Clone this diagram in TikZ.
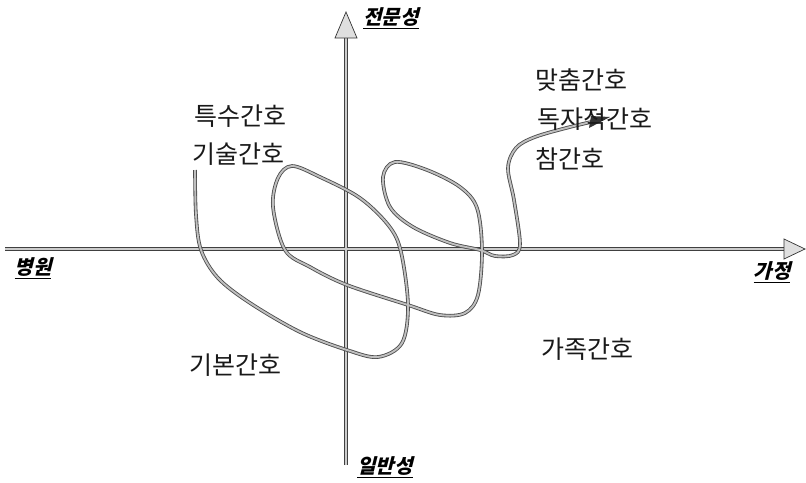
\documentclass[tikz,border=0pt]{standalone}
\usepackage{fontspec}
\newfontfamily\kr{Noto Sans CJK KR}
\newfontfamily\krbi[FakeSlant=0.25]{Noto Sans CJK KR}
\usetikzlibrary{arrows.meta,calc}
\tikzset{
  axisline/.style={draw=black!75, line width=3.8pt},
  axiscore/.style={draw=gray!40, line width=2pt},
  curveline/.style={draw=black!70, line width=3.6pt, line join=round},
  curvecore/.style={draw=gray!50, line width=1.9pt, line join=round},
  headtri/.style={fill=gray!25, draw=black!80, line width=0.7pt, line join=miter},
  lbl/.style={font=\kr\fontsize{25}{28}\selectfont, inner sep=0pt, text=black!90},
  axlbl/.style={font=\krbi\bfseries\fontsize{20}{23}\selectfont, inner sep=0pt}
}
\begin{document}
\begin{tikzpicture}[x=1pt,y=-1pt]
\useasboundingbox (0,0) rectangle (806,482);
% axis coordinates
\coordinate (vb) at (346,465);
\coordinate (vt) at (346,38);
\coordinate (vtip) at (346,12);
\coordinate (hl) at (5,249);
\coordinate (hr) at (784,249);
\coordinate (htip) at (805,249);
% axes
\draw[axisline] (vb) -- (vt);
\draw[axisline] (hl) -- (hr);
\draw[axiscore] (vb) -- (vt);
\draw[axiscore] (hl) -- (hr);
\filldraw[headtri] (vtip) -- ($(vt)+(-11,0)$) -- ($(vt)+(11,0)$) -- cycle;
\filldraw[headtri] (htip) -- ($(hr)+(0,-10)$) -- ($(hr)+(0,10)$) -- cycle;
% curve
\def\curvepath{plot[smooth, tension=0.55] coordinates {
 (195,170) (196,215) (201,250) (218,278) (250,303) (300,332) (347,350)
 (378,357) (402,343) (408,305) (401,252) (389,226) (360,198) (320,177) (292,166)
 (278,178) (273,207) (285,250) (310,267) (347,285) (408,305) (440,315)
 (465,313) (478,295) (482,250) (477,208) (460,187) (427,170) (395,162)
 (383,177) (390,207) (413,227) (450,243) (480,250) (495,256) (513,255)
 (520,244) (514,200) (508,168) (516,148) (535,137) (570,127) (600,120)}}
\draw[curveline] \curvepath;
\draw[curvecore] \curvepath;
\coordinate (ctail) at (590,122);
\coordinate (ctip) at (610,117);
\fill[black!80] (ctip) -- ($(ctail)+(1,-6)$) -- ($(ctail)+(-1,6)$) -- cycle;
% labels
\node[lbl] (t1) at (240,116) {특수간호};
\node[lbl] (t2) at (238,154) {기술간호};
\node[lbl] (t3) at (581,80) {맞춤간호};
\node[lbl] (t4) at (595,119) {독자적간호};
\node[lbl] (t5) at (570,159) {참간호};
\node[lbl] (t6) at (587,349) {가족간호};
\node[lbl] (t7) at (235,365) {기본간호};
\node[axlbl] (a1) at (391,18) {\underline{전문성}};
\node[axlbl] (a2) at (33,268) {\underline{병원}};
\node[axlbl] (a3) at (772,272) {\underline{가정}};
\node[axlbl] (a4) at (385,467) {\underline{일반성}};
\end{tikzpicture}
\end{document}
